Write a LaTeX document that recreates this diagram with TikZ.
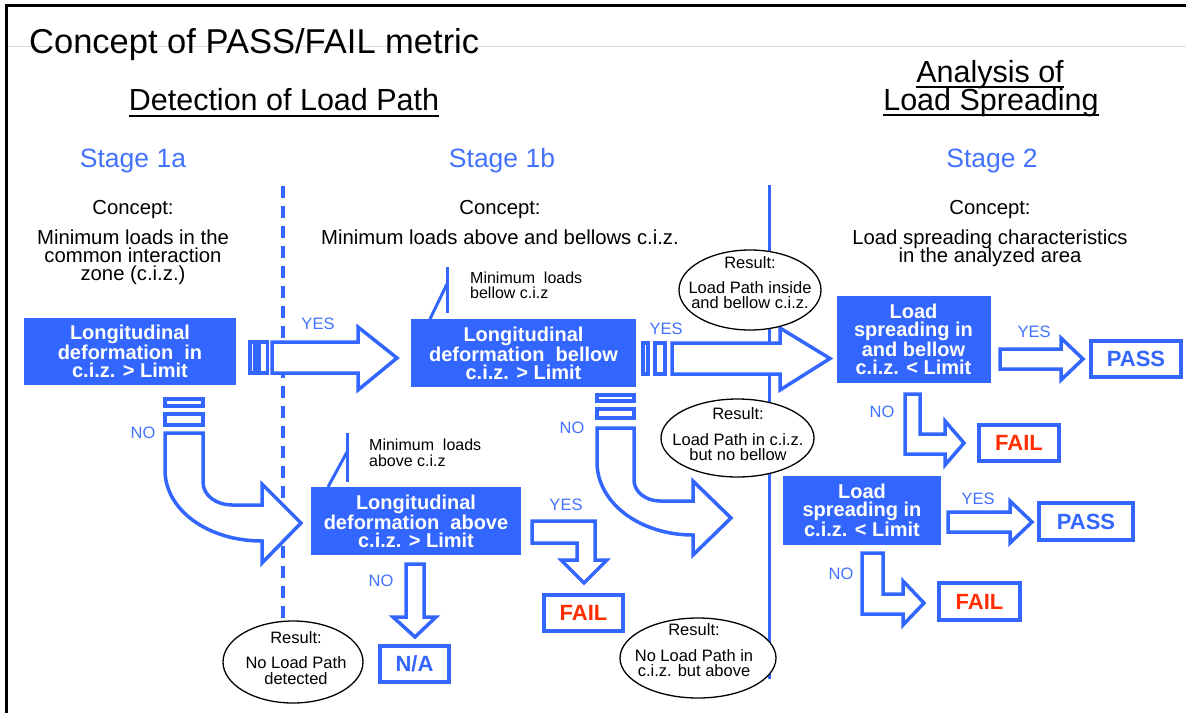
\documentclass[tikz,border=0pt]{standalone}
\usepackage{fontspec}
\setmainfont{Liberation Sans}
\usetikzlibrary{calc,shapes.geometric}
\definecolor{pblue}{RGB}{51,102,255}
\definecolor{tblue}{RGB}{66,114,255}
\definecolor{pred}{RGB}{255,45,0}
\definecolor{lgray}{RGB}{222,222,222}
\begin{document}
\begin{tikzpicture}[x=1pt,y=-1pt,
  bluebox/.style={fill=pblue, text=white, align=center, inner sep=0pt, font=\fontsize{20}{18}\selectfont\bfseries},
  outbox/.style={draw=pblue, line width=4pt, fill=white, inner sep=0pt, font=\fontsize{22}{22}\selectfont\bfseries},
  arrowshape/.style={draw=pblue, line width=3.5pt, fill=white, line join=miter, miter limit=10},
  resell/.style={draw=black, line width=1.3pt, fill=white, shape=ellipse, inner sep=0pt},
  restxt/.style={anchor=base, inner sep=0pt, font=\fontsize{16.5}{16}\selectfont},
  yn/.style={anchor=base, inner sep=0pt, text=tblue, font=\fontsize{16.5}{16}\selectfont},
  ctxt/.style={anchor=base, inner sep=0pt, font=\fontsize{20.3}{18}\selectfont},
  stagetxt/.style={anchor=base, inner sep=0pt, text=tblue, font=\fontsize{26.5}{26}\selectfont},
  calltxt/.style={anchor=base west, inner sep=0pt, font=\fontsize{16}{16}\selectfont},
  headtxt/.style={anchor=base, inner sep=0pt, font=\fontsize{30.5}{30}\selectfont},
  callout/.style={draw=pblue, line width=3pt},
  divider/.style={draw=pblue, line width=3.5pt}
]
\useasboundingbox (0,0) rectangle (1186,713);
% frame
\draw[lgray, line width=1pt] (6,46) -- (1186,46);
\draw[black, line width=3.5pt] (6.5,713) -- (6.5,5.5) -- (1186,5.5);

% headings
\node[anchor=base west, inner sep=0pt, font=\fontsize{34.5}{34}\selectfont] (title) at (29,53) {Concept of PASS/FAIL metric};
\node[headtxt] (det) at (284,110) {Detection of Load Path};
\draw[line width=1.8pt] ([yshift=-6pt]det.base west) -- ([yshift=-6pt]det.base east);
\node[headtxt] (ana1) at (990,82) {Analysis of};
\node[headtxt] (ana2) at (991,110) {Load Spreading};
\draw[line width=1.8pt] ([yshift=-5pt]ana1.base west) -- ([yshift=-5pt]ana1.base east);
\draw[line width=1.8pt] ([yshift=-5pt]ana2.base west) -- ([yshift=-5pt]ana2.base east);

\node[stagetxt] (s1a) at (133,167) {Stage 1a};
\node[stagetxt] (s1b) at (502,167) {Stage 1b};
\node[stagetxt] (s2) at (992,167) {Stage 2};

\node[ctxt] (c1) at (133,214) {Concept:};
\node[ctxt] (c1l1) at (133,244) {Minimum loads in the};
\node[ctxt] (c1l2) at (133,262) {common interaction};
\node[ctxt] (c1l3) at (133,280) {zone (c.i.z.)};
\node[ctxt] (c2) at (500,214) {Concept:};
\node[ctxt] (c2l1) at (500,244) {Minimum loads above and bellows c.i.z.};
\node[ctxt] (c3) at (990,214) {Concept:};
\node[ctxt] (c3l1) at (990,244) {Load spreading characteristics};
\node[ctxt] (c3l2) at (990,262) {in the analyzed area};

% dividers
\coordinate (dtop) at (283,186);
\coordinate (dbot) at (283,624);
\draw[divider, dash pattern=on 12pt off 8pt] (dtop) -- (dbot);
\coordinate (stop) at (769.5,185);
\coordinate (sbot) at (769.5,679);
\draw[divider] (stop) -- (sbot);

% callouts
\coordinate (k1a) at (447,267); \coordinate (k1b) at (447,313);
\coordinate (k1c) at (447,284); \coordinate (k1d) at (430,319);
\draw[callout] (k1a) -- (k1b); \draw[callout] (k1c) -- (k1d);
\node[calltxt] (m1a) at (470,283) {Minimum\ \ loads};
\node[calltxt] (m1b) at (470,298) {bellow c.i.z};
\coordinate (k2a) at (347,433); \coordinate (k2b) at (347,482);
\coordinate (k2c) at (347,452); \coordinate (k2d) at (328,487);
\draw[callout] (k2a) -- (k2b); \draw[callout] (k2c) -- (k2d);
\node[calltxt] (m2a) at (369,450) {Minimum\ \ loads};
\node[calltxt] (m2b) at (369,466) {above c.i.z};

% arrows stage 1a
\draw[arrowshape] (250,342) rectangle (255,373);
\draw[arrowshape] (259,342) rectangle (267.5,373);
\draw[arrowshape] (272,342) -- (358,342) -- (358,327) -- (397,358) -- (358,390) -- (358,373) -- (272,373) -- cycle;
\draw[arrowshape] (165,399) rectangle (203,406);
\draw[arrowshape] (165,414) rectangle (203,425);
\draw[arrowshape] (165,433) -- (165,470) .. controls (165,510) and (208,541) .. (262,541) -- (262,563) -- (301,523) -- (262,484) -- (262,505) -- (232,505) .. controls (217,505) and (203,496) .. (203,482) -- (203,433) -- cycle;

% arrows stage 1b
\draw[arrowshape] (643,343) rectangle (648,374);
\draw[arrowshape] (655,343) rectangle (665,374);
\draw[arrowshape] (672,343) -- (780,343) -- (780,328) -- (830,358.5) -- (780,390) -- (780,374) -- (672,374) -- cycle;
\draw[arrowshape] (597,395) rectangle (634,401);
\draw[arrowshape] (597,409) rectangle (634,418);
\draw[arrowshape] (597,428) -- (597,462) .. controls (597,503) and (640,535) .. (693,535) -- (693,555) -- (731,518) -- (693,481) -- (693,501) -- (660,501) .. controls (646,501) and (634,492) .. (634,480) -- (634,428) -- cycle;
\draw[arrowshape] (532,521) -- (595,521) -- (595,560) -- (607,560) -- (584,583) -- (561,560) -- (577,560) -- (577,543) -- (532,543) -- cycle;
\draw[arrowshape] (406,564) -- (424,564) -- (424,617) -- (436,617) -- (415,637) -- (393,617) -- (406,617) -- cycle;

% arrows stage 2
\draw[arrowshape] (1000,349) -- (1061,349) -- (1061,338) -- (1083,359) -- (1061,380) -- (1061,369) -- (1000,369) -- cycle;
\draw[arrowshape] (905,394) -- (920,394) -- (920,434) -- (945,434) -- (945,421) -- (964,443) -- (945,465) -- (945,454) -- (905,454) -- cycle;
\draw[arrowshape] (948,512) -- (1010,512) -- (1010,501) -- (1032,522) -- (1010,543) -- (1010,532) -- (948,532) -- cycle;
\draw[arrowshape] (862,553) -- (883,553) -- (883,594) -- (903,594) -- (903,581) -- (924,603) -- (903,625) -- (903,614) -- (862,614) -- cycle;

% result ellipses
\node[resell, minimum width=142pt, minimum height=80pt] (e1) at (750,290) {};
\node[restxt] at (750,268) {Result:};
\node[restxt] at (750,293) {Load Path inside};
\node[restxt] at (750,308) {and bellow c.i.z.};
\node[resell, minimum width=153pt, minimum height=78pt] (e2) at (737.5,438) {};
\node[restxt] at (738,419) {Result:};
\node[restxt] at (738,445) {Load Path in c.i.z.};
\node[restxt] at (738,460) {but no bellow};
\node[resell, minimum width=140pt, minimum height=82pt] (e3) at (293,662) {};
\node[restxt] at (296,643) {Result:};
\node[restxt] at (296,668) {No Load Path};
\node[restxt] at (296,684) {detected};
\node[resell, minimum width=156pt, minimum height=80pt] (e4) at (698,658) {};
\node[restxt] at (694,635) {Result:};
\node[restxt] at (694,661) {No Load Path in};
\node[restxt] at (694,676) {c.i.z. but above};

% decision boxes
\node[bluebox, minimum width=212pt, minimum height=67pt] (b1) at (130,351.5) {Longitudinal\\deformation\ \ in\\c.i.z. > Limit};
\node[bluebox, minimum width=225pt, minimum height=68pt] (b2) at (523.5,353) {Longitudinal\\deformation\ \ bellow\\c.i.z. > Limit};
\node[bluebox, minimum width=210pt, minimum height=68pt] (b3) at (416,521) {Longitudinal\\deformation\ \ above\\c.i.z. > Limit};
\node[bluebox, minimum width=154pt, minimum height=87pt] (b4) at (913.5,339.5) {Load\\spreading in\\and bellow\\c.i.z. < Limit};
\node[bluebox, minimum width=158pt, minimum height=69pt] (b5) at (862,510.5) {Load\\spreading in\\c.i.z. < Limit};

% outcome boxes
\node[outbox, text=pblue, minimum width=90pt, minimum height=36pt] (pass1) at (1136,358.5) {PASS};
\node[outbox, text=pred, minimum width=80pt, minimum height=36pt] (fail1) at (1019,443) {FAIL};
\node[outbox, text=pblue, minimum width=94pt, minimum height=37pt] (pass2) at (1086,521.5) {PASS};
\node[outbox, text=pred, minimum width=81pt, minimum height=37pt] (fail2) at (979.5,601.5) {FAIL};
\node[outbox, text=pred, minimum width=79pt, minimum height=36pt] (fail3) at (583.5,613) {FAIL};
\node[outbox, text=pblue, minimum width=69pt, minimum height=36pt] (na) at (414.5,664) {N/A};

% YES / NO labels
\node[yn] at (318,329) {YES};
\node[yn] at (143,438) {NO};
\node[yn] at (666,334) {YES};
\node[yn] at (572,433) {NO};
\node[yn] at (566,510) {YES};
\node[yn] at (381,586) {NO};
\node[yn] at (1034,337) {YES};
\node[yn] at (882,417) {NO};
\node[yn] at (978,504) {YES};
\node[yn] at (841,579) {NO};
\end{tikzpicture}
\end{document}
